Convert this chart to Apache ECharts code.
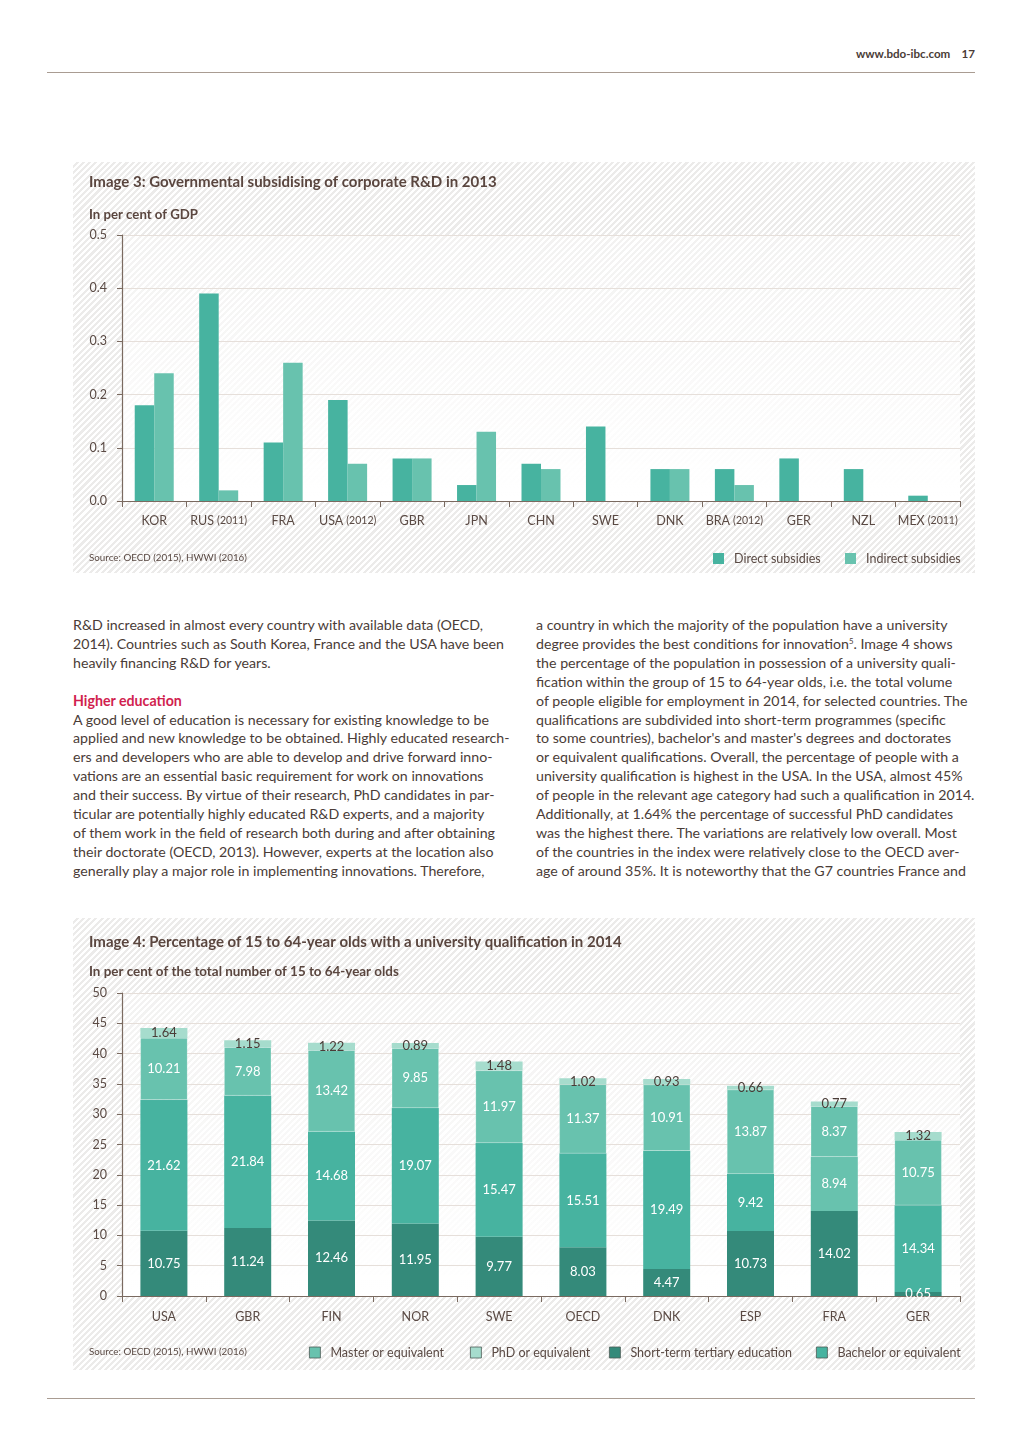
<!DOCTYPE html>
<html>
<head>
<meta charset="utf-8">
<script src="https://cdn.jsdelivr.net/npm/echarts@6/dist/echarts.min.js"></script>
<style>
  html, body { margin:0; padding:0; background:#ffffff; }
  body { width:1024px; height:1449px; position:relative; font-family: Lato, "Open Sans", sans-serif; color:#4a3c37; }
  .rule { position:absolute; left:47px; width:928px; height:1px; background:#a99c92; }
  .hdr { position:absolute; top:47px; right:49px; font-size:11.6px; font-weight:bold; color:#4a3c37; }
  .panel { position:absolute; left:73px; width:902px;
    background: repeating-linear-gradient(135deg, #ffffff 0px, #ffffff 2.2px, #ecebea 2.2px, #ecebea 4.4px); }
  .col { position:absolute; top:616px; font-size:14px; line-height:18.9px; color:#4a3c37; }
  .col span { display:block; white-space:nowrap; }
  .red { color:#d11f4f; font-weight:bold; }
  sup { font-size:0.55em; vertical-align: 0.6em; line-height:0; }
</style>
</head>
<body>
<div class="hdr">www.bdo-ibc.com&nbsp;&nbsp;&nbsp;&nbsp;17</div>
<div class="rule" style="top:72px"></div>

<div class="panel" style="top:162px;height:411px"><div id="c1" style="width:902px;height:411px"></div></div>

<div class="col" id="colL" style="left:73px;width:445px">
<span>R&amp;D increased in almost every country with available data (OECD,</span>
<span>2014). Countries such as South Korea, France and the USA have been</span>
<span>heavily financing R&amp;D for years.</span>
<span>&nbsp;</span>
<span class="red">Higher education</span>
<span>A good level of education is necessary for existing knowledge to be</span>
<span>applied and new knowledge to be obtained. Highly educated research-</span>
<span>ers and developers who are able to develop and drive forward inno-</span>
<span>vations are an essential basic requirement for work on innovations</span>
<span>and their success. By virtue of their research, PhD candidates in par-</span>
<span>ticular are potentially highly educated R&amp;D experts, and a majority</span>
<span>of them work in the field of research both during and after obtaining</span>
<span>their doctorate (OECD, 2013). However, experts at the location also</span>
<span>generally play a major role in implementing innovations. Therefore,</span>
</div>

<div class="col" id="colR" style="left:536px;width:460px">
<span>a country in which the majority of the population have a university</span>
<span>degree provides the best conditions for innovation<sup>5</sup>. Image 4 shows</span>
<span>the percentage of the population in possession of a university quali-</span>
<span>fication within the group of 15 to 64-year olds, i.e. the total volume</span>
<span>of people eligible for employment in 2014, for selected countries. The</span>
<span>qualifications are subdivided into short-term programmes (specific</span>
<span>to some countries), bachelor's and master's degrees and doctorates</span>
<span>or equivalent qualifications. Overall, the percentage of people with a</span>
<span>university qualification is highest in the USA. In the USA, almost 45%</span>
<span id="refLine">of people in the relevant age category had such a qualification in 2014.</span>
<span>Additionally, at 1.64% the percentage of successful PhD candidates</span>
<span>was the highest there. The variations are relatively low overall. Most</span>
<span>of the countries in the index were relatively close to the OECD aver-</span>
<span>age of around 35%. It is noteworthy that the G7 countries France and</span>
</div>

<div class="panel" style="top:918px;height:452px"><div id="c2" style="width:902px;height:452px"></div></div>
<div class="rule" style="top:1398px"></div>

<script>
// fit body text size so the longest line matches the reference column width
(function(){
  const ref = document.getElementById('refLine');
  ref.style.display = 'inline-block';
  const w = ref.getBoundingClientRect().width;
  ref.style.display = 'block';
  const fs = 14 * 439 / w;
  document.getElementById('colL').style.fontSize = fs + 'px';
  document.getElementById('colR').style.fontSize = fs + 'px';
})();

// ---------- Chart 1 data ----------
const countries1 = ['KOR','RUS (2011)','FRA','USA (2012)','GBR','JPN','CHN','SWE','DNK','BRA (2012)','GER','NZL','MEX (2011)'];
const directSubsidies = [0.18,0.39,0.11,0.19,0.08,0.03,0.07,0.14,0.06,0.06,0.08,0.06,0.01];
const indirectSubsidies = [0.24,0.02,0.26,0.07,0.08,0.13,0.06,null,0.06,0.03,null,null,null];
const yTicks1 = [0,0.1,0.2,0.3,0.4,0.5];

// ---------- Chart 2 data ----------
const countries2 = ['USA','GBR','FIN','NOR','SWE','OECD','DNK','ESP','FRA','GER'];
const shortTerm = [10.75,11.24,12.46,11.95,9.77,8.03,4.47,10.73,14.02,0.65];
const bachelor  = [21.62,21.84,14.68,19.07,15.47,15.51,19.49,9.42,8.94,14.34];
const master    = [10.21,7.98,13.42,9.85,11.97,11.37,10.91,13.87,8.37,10.75];
const phd       = [1.64,1.15,1.22,0.89,1.48,1.02,0.93,0.66,0.77,1.32];
const yTicks2 = [0,5,10,15,20,25,30,35,40,45,50];

const FONT = 'Lato';
const TXT = '#5a4a44';
const AXIS = '#7a6a60';
const GRIDC = '#e6dfda';
const C_SHORT = '#348a7a', C_BACH = '#47b3a0', C_MAST = '#68c2ae', C_PHD = '#a6dccd';

const plotBg = {type:'linear',x:0,y:0,x2:0,y2:1,colorStops:[{offset:0,color:'rgba(255,255,255,0.35)'},{offset:1,color:'rgba(255,255,255,1)'}]};

function catFmt(v){
  const i = v.indexOf(' (');
  if(i<0) return '{a|'+v+'}';
  return '{a|'+v.slice(0,i)+'} {b|'+v.slice(i+1)+'}';
}
function oneLegend(name, left, top, border){
  return {
    data:[name], left:left, top:top, padding:0, itemWidth:11, itemHeight:11, icon:'rect',
    itemStyle: border ? {borderColor:'#4d5a55',borderWidth:0.8} : {},
    textStyle:{fontFamily:FONT,fontSize:12.5,color:TXT,padding:[0,0,0,5]}
  };
}

const c1 = echarts.init(document.getElementById('c1'), null, {renderer:'canvas'});
c1.setOption({
  animation:false,
  textStyle:{fontFamily:FONT},
  graphic:[
    {type:'text',left:16,top:13,style:{text:'Image 3: Governmental subsidising of corporate R&D in 2013',font:'bold 15px Lato',fill:'#5a463f'}},
    {type:'text',left:16,top:46,style:{text:'In per cent of GDP',font:'bold 13.2px Lato',fill:'#5a463f'}},
    {type:'text',left:16,top:391,style:{text:'Source: OECD (2015), HWWI (2016)',font:'9.8px Lato',fill:TXT}}
  ],
  legend:[ oneLegend('Direct subsidies', 640, 390, false), oneLegend('Indirect subsidies', 772, 390, false) ],
  grid:{left:49,right:15,top:73,bottom:72,show:true,borderWidth:0,backgroundColor:plotBg},
  xAxis:{
    type:'category',data:countries1,
    axisLine:{lineStyle:{color:AXIS,width:1.2}},
    axisTick:{show:true,length:6,lineStyle:{color:AXIS}},
    axisLabel:{interval:0,margin:13,formatter:catFmt,rich:{a:{fontFamily:FONT,fontSize:12.5,color:TXT},b:{fontFamily:FONT,fontSize:10.5,color:TXT}}}
  },
  yAxis:{
    type:'value',min:0,max:0.5,interval:0.1,
    axisLine:{show:true,lineStyle:{color:AXIS,width:1.2}},
    axisTick:{show:true,length:5,lineStyle:{color:AXIS}},
    axisLabel:{fontFamily:FONT,fontSize:12.5,color:TXT,margin:15,formatter:v=>v.toFixed(1)},
    splitLine:{lineStyle:{color:GRIDC,width:1}}
  },
  series:[
    {name:'Direct subsidies',type:'bar',data:directSubsidies,barWidth:19.5,barGap:'0%',itemStyle:{color:C_BACH}},
    {name:'Indirect subsidies',type:'bar',data:indirectSubsidies,barWidth:19.5,barGap:'0%',itemStyle:{color:C_MAST}}
  ]
});

const c2 = echarts.init(document.getElementById('c2'), null, {renderer:'canvas'});
const inLabel = {show:true,position:'inside',color:'#ffffff',fontFamily:FONT,fontSize:13,formatter:p=>p.value.toFixed(2)};
c2.setOption({
  animation:false,
  textStyle:{fontFamily:FONT},
  graphic:[
    {type:'text',left:16,top:17,style:{text:'Image 4: Percentage of 15 to 64-year olds with a university qualification in 2014',font:'bold 15px Lato',fill:'#5a463f'}},
    {type:'text',left:16,top:47,style:{text:'In per cent of the total number of 15 to 64-year olds',font:'bold 13.4px Lato',fill:'#5a463f'}},
    {type:'text',left:16,top:429,style:{text:'Source: OECD (2015), HWWI (2016)',font:'9.8px Lato',fill:TXT}}
  ],
  legend:[
    oneLegend('Master or equivalent', 236, 428, true),
    oneLegend('PhD or equivalent', 397, 428, true),
    oneLegend('Short-term tertiary education', 536, 428, true),
    oneLegend('Bachelor or equivalent', 743, 428, true)
  ],
  grid:{left:49,right:15,top:75,bottom:74,show:true,borderWidth:0,backgroundColor:plotBg},
  xAxis:{
    type:'category',data:countries2,
    axisLine:{lineStyle:{color:AXIS,width:1.2}},
    axisTick:{show:true,length:6,lineStyle:{color:AXIS}},
    axisLabel:{interval:0,fontFamily:FONT,fontSize:12.5,color:TXT,margin:14}
  },
  yAxis:{
    type:'value',min:0,max:50,interval:5,
    axisLine:{show:true,lineStyle:{color:AXIS,width:1.2}},
    axisTick:{show:true,length:5,lineStyle:{color:AXIS}},
    axisLabel:{fontFamily:FONT,fontSize:12.5,color:TXT,margin:15},
    splitLine:{lineStyle:{color:GRIDC,width:1}}
  },
  series:[
    {name:'Short-term tertiary education',type:'bar',stack:'t',barWidth:47,data:shortTerm,itemStyle:{color:C_SHORT},label:inLabel},
    {name:'Bachelor or equivalent',type:'bar',stack:'t',barWidth:47,
      data:bachelor.map((v,i)=> countries2[i]==='FRA' ? {value:v,itemStyle:{color:C_MAST}} : v),
      itemStyle:{color:C_BACH},label:inLabel},
    {name:'Master or equivalent',type:'bar',stack:'t',barWidth:47,data:master,itemStyle:{color:C_MAST,borderColor:'rgba(255,255,255,0.35)',borderWidth:0.5},label:inLabel},
    {name:'PhD or equivalent',type:'bar',stack:'t',barWidth:47,data:phd,itemStyle:{color:C_PHD},
      label:{show:true,position:'inside',color:'#4a3c37',fontFamily:FONT,fontSize:13,formatter:p=>p.value.toFixed(2)}}
  ]
});
</script>
</body>
</html>
